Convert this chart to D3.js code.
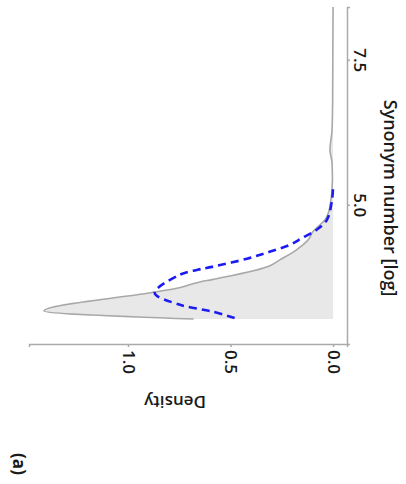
<!DOCTYPE html>
<html lang="en">
<head>
<meta charset="UTF-8">
<style>
  body { margin: 0; background: #fff; }
  text { font-family: "Open Sans", sans-serif; fill: #1a1a1a; }
</style>
</head>
<body>
<svg width="406" height="484"></svg>
<script src="https://cdn.jsdelivr.net/npm/d3@7"></script>
<script>
// observed density (log synonym number -> density)
const obsLog = [3.03, 3.17, 3.50, 3.57, 3.67, 3.71, 3.93, 4.05, 4.22, 4.40, 4.53, 4.74, 4.97, 5.43, 5.72, 5.95, 6.29, 6.81, 8.41];
const obsDens = [0.68, 1.41, 0.86, 0.75, 0.65, 0.59, 0.32, 0.26, 0.18, 0.12, 0.10, 0.04, 0.015, 0.003, 0.005, 0.015, 0.005, 0.002, 0.0];
// fitted curve (blue dashed)
const fitLog = [3.05, 3.16, 3.28, 3.48, 3.79, 3.88, 3.93, 4.07, 4.19, 4.31, 4.43, 4.57, 4.74, 5.09, 5.31];
const fitDens = [0.48, 0.59, 0.75, 0.87, 0.75, 0.66, 0.59, 0.42, 0.31, 0.21, 0.15, 0.08, 0.03, 0.005, 0.0];
const logTicks = [5.0, 7.5];
const densTicks = [0.0, 0.5, 1.0];

const svg = d3.select("svg");

// chart is shown turned on its side: density runs right-to-left, log runs bottom-to-top
const dens = d3.scaleLinear().domain([-0.068, 1.483]).range([347, 29]);
const syn = d3.scaleLinear().domain([2.60, 8.41]).range([344, 7]);

const obs = obsLog.map((v, i) => ({ v: v, d: obsDens[i] }));
const fit = fitLog.map((v, i) => ({ v: v, d: fitDens[i] }));

const area = d3.area()
  .y(d => syn(d.v))
  .x0(dens(0))
  .x1(d => dens(d.d))
  .curve(d3.curveMonotoneY);

svg.append("path")
  .datum(obs)
  .attr("d", area)
  .attr("fill", "#e8e8e8");

svg.append("path")
  .datum(obs)
  .attr("d", d3.line().y(d => syn(d.v)).x(d => dens(d.d)).curve(d3.curveMonotoneY))
  .attr("fill", "none")
  .attr("stroke", "#a8a8a8")
  .attr("stroke-width", 1.6);

svg.append("path")
  .datum(fit)
  .attr("d", d3.line().y(d => syn(d.v)).x(d => dens(d.d)).curve(d3.curveCatmullRom))
  .attr("fill", "none")
  .attr("stroke", "#1c1cf0")
  .attr("stroke-width", 2.6)
  .attr("stroke-dasharray", "8,5");

// density axis (bottom)
const bx = svg.append("g")
  .attr("transform", "translate(0,344)")
  .call(d3.axisBottom(dens).tickValues(densTicks).tickFormat(d3.format(".1f")).tickSizeOuter(0).tickSize(3));
bx.selectAll("text")
  .attr("font-size", 17)
  .attr("font-weight", 600)
  .attr("transform", "translate(0,18) rotate(90)")
  .attr("x", 0).attr("y", 0).attr("dy", "0.35em")
  .attr("text-anchor", "middle");

// log axis (right)
const ry = svg.append("g")
  .attr("transform", "translate(347,0)")
  .call(d3.axisRight(syn).tickValues(logTicks).tickFormat(d3.format(".1f")).tickSizeOuter(0).tickSize(3));
ry.selectAll("text")
  .attr("font-size", 17)
  .attr("font-weight", 600)
  .attr("transform", "translate(13,0) rotate(90)")
  .attr("x", 0).attr("y", 0).attr("dy", "0.35em")
  .attr("text-anchor", "middle");

svg.selectAll(".domain, .tick line").attr("stroke", "#aaa").attr("stroke-width", 1.5);

svg.append("text")
  .attr("transform", "translate(390,198) rotate(90)")
  .attr("text-anchor", "middle")
  .attr("dy", "0.35em")
  .attr("font-size", 18)
  .attr("font-weight", 600)
  .text("Synonym number [log]");

svg.append("text")
  .attr("transform", "translate(175,402) rotate(180)")
  .attr("text-anchor", "middle")
  .attr("dy", "0.35em")
  .attr("font-size", 17)
  .attr("font-weight", 600)
  .text("Density");

svg.append("text")
  .attr("transform", "translate(19,464) rotate(90)")
  .attr("text-anchor", "middle")
  .attr("dy", "0.35em")
  .attr("font-size", 17)
  .attr("font-weight", "bold")
  .text("(a)");
</script>
</body>
</html>
